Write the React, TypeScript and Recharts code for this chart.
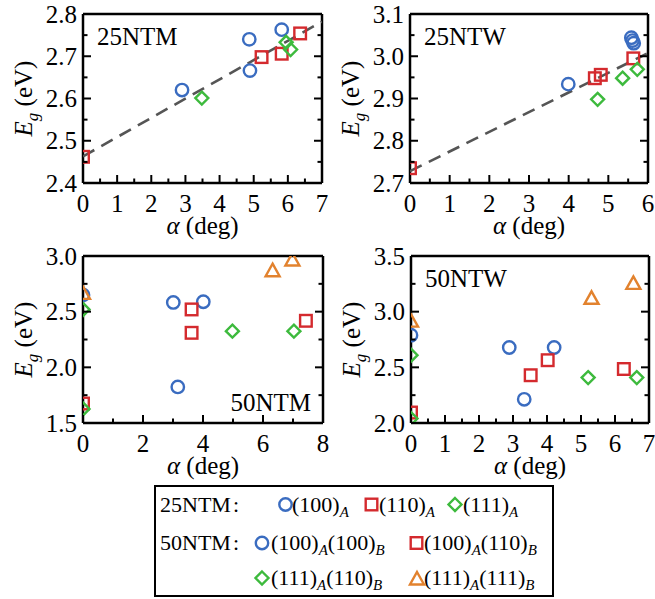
import React from "react";
import { ScatterChart, Scatter, XAxis, YAxis, Label } from "recharts";

const BLUE = "#3a6cc0";
const RED = "#d42a2e";
const GREEN = "#3dba3d";
const ORANGE = "#e2822e";
const FONT = "'Liberation Serif', 'Times New Roman', serif";

// 25NTM
const m25CircA = [2.9, 4.87, 4.89, 5.82];
const m25CircE = [2.62, 2.74, 2.666, 2.763];
const m25SqA = [0, 5.23, 5.82, 6.36];
const m25SqE = [2.462, 2.698, 2.706, 2.754];
const m25DiaA = [3.48, 5.95, 6.08];
const m25DiaE = [2.601, 2.733, 2.716];
const m25FitA = [0, 7];
const m25FitE = [2.463, 2.782];

// 25NTW
const w25CircA = [3.99, 5.58, 5.61, 5.64];
const w25CircE = [2.934, 3.044, 3.037, 3.031];
const w25SqA = [0, 4.66, 4.81, 5.63];
const w25SqE = [2.735, 2.948, 2.956, 2.995];
const w25DiaA = [4.73, 5.36, 5.73];
const w25DiaE = [2.898, 2.948, 2.969];
const w25FitA = [0, 5.97];
const w25FitE = [2.728, 3.006];

// 50NTM
const m50CircA = [0, 3.01, 3.16, 4.01];
const m50CircE = [2.65, 2.583, 1.824, 2.589];
const m50SqA = [0, 3.62, 3.62, 7.43];
const m50SqE = [1.675, 2.52, 2.31, 2.418];
const m50DiaA = [0, 0, 4.98, 7.03];
const m50DiaE = [2.52, 1.626, 2.325, 2.325];
const m50TriA = [0, 6.32, 6.98];
const m50TriE = [2.664, 2.868, 2.964];

// 50NTW
const w50CircA = [0, 2.89, 3.33, 4.21];
const w50CircE = [2.789, 2.678, 2.213, 2.678];
const w50SqA = [0, 3.52, 4.02, 6.26];
const w50SqE = [2.094, 2.429, 2.564, 2.485];
const w50DiaA = [0, 0, 5.21, 6.64];
const w50DiaE = [2.609, 2.04, 2.408, 2.408];
const w50TriA = [0, 5.31, 6.54];
const w50TriE = [2.915, 3.12, 3.254];

// major tick values
const xTicks7 = [0, 1, 2, 3, 4, 5, 6, 7];
const xTicks6 = [0, 1, 2, 3, 4, 5, 6];
const xTicks8 = [0, 2, 4, 6, 8];
const yTicksM25 = [2.4, 2.5, 2.6, 2.7, 2.8];
const yTicksW25 = [2.7, 2.8, 2.9, 3.0, 3.1];
const yTicksM50 = [1.5, 2.0, 2.5, 3.0];
const yTicksW50 = [2.0, 2.5, 3.0, 3.5];

const zip = (a: number[], e: number[]) => a.map((v, i) => ({ a: v, e: e[i] }));

// majors plus midpoints between them
const withMinor = (ticks: number[]) => {
  const out: number[] = [];
  ticks.forEach((t, i) => {
    out.push(t);
    if (i < ticks.length - 1) out.push((t + ticks[i + 1]) / 2);
  });
  return out;
};

const isMajor = (v: number, majors: number[]) => majors.some((m) => Math.abs(m - v) < 1e-6);

const MAJOR = 8;
const MINOR = 4.5;
const AX = { stroke: "#000", strokeWidth: 2.5 };

const bottomTick = (majors: number[]) => (p: any) => {
  const v = p.payload.value;
  const maj = isMajor(v, majors);
  return (
    <g>
      <line x1={p.x} y1={p.y} x2={p.x} y2={p.y - (maj ? MAJOR : MINOR)} stroke="#000" strokeWidth={2} />
      {maj && (
        <text x={p.x} y={p.y + 29} textAnchor="middle" fontFamily={FONT} fontSize={25} fill="#000">
          {v.toFixed(0)}
        </text>
      )}
    </g>
  );
};

const topTick = (majors: number[]) => (p: any) => {
  const maj = isMajor(p.payload.value, majors);
  return <line x1={p.x} y1={p.y} x2={p.x} y2={p.y + (maj ? MAJOR : MINOR)} stroke="#000" strokeWidth={2} />;
};

const leftTick = (majors: number[]) => (p: any) => {
  const v = p.payload.value;
  const maj = isMajor(v, majors);
  return (
    <g>
      <line x1={p.x} y1={p.y} x2={p.x + (maj ? MAJOR : MINOR)} y2={p.y} stroke="#000" strokeWidth={2} />
      {maj && (
        <text x={p.x - 6} y={p.y + 8.5} textAnchor="end" fontFamily={FONT} fontSize={25} fill="#000">
          {v.toFixed(1)}
        </text>
      )}
    </g>
  );
};

const rightTick = (majors: number[]) => (p: any) => {
  const maj = isMajor(p.payload.value, majors);
  return <line x1={p.x} y1={p.y} x2={p.x - (maj ? MAJOR : MINOR)} y2={p.y} stroke="#000" strokeWidth={2} />;
};

const circleShape = (p: any) => (
  <circle cx={p.cx} cy={p.cy} r={6.2} fill="none" stroke={BLUE} strokeWidth={2.4} />
);
const squareShape = (p: any) => (
  <rect x={p.cx - 5.8} y={p.cy - 5.8} width={11.6} height={11.6} fill="none" stroke={RED} strokeWidth={2.4} />
);
const diamondShape = (p: any) => (
  <path
    d={`M${p.cx},${p.cy - 6.5}L${p.cx + 6.5},${p.cy}L${p.cx},${p.cy + 6.5}L${p.cx - 6.5},${p.cy}Z`}
    fill="none"
    stroke={GREEN}
    strokeWidth={2.4}
  />
);
const triangleShape = (p: any) => (
  <path
    d={`M${p.cx},${p.cy - 7}L${p.cx + 7},${p.cy + 5.5}L${p.cx - 7},${p.cy + 5.5}Z`}
    fill="none"
    stroke={ORANGE}
    strokeWidth={2.4}
  />
);
const noShape = () => <g />;

type Series = { data: { a: number; e: number }[]; shape: any; name: string };

type PanelProps = {
  left: number;
  top: number;
  width: number;
  height: number;
  // plot-area insets from the chart edges
  inset: { top: number; right: number; bottom: number; left: number };
  xMajors: number[];
  yMajors: number[];
  series: Series[];
  fit?: { a: number; e: number }[];
  tag: string;
  tagPos: "topLeft" | "bottomRight";
};

function Panel(props: PanelProps) {
  const { xMajors, yMajors, inset } = props;
  const xAll = withMinor(xMajors);
  const yAll = withMinor(yMajors);
  const xDom = [xMajors[0], xMajors[xMajors.length - 1]];
  const yDom = [yMajors[0], yMajors[yMajors.length - 1]];
  // axes take 1px each, so the margins are the insets minus that
  const margin = {
    top: inset.top - 1,
    right: inset.right - 1,
    bottom: inset.bottom - 1,
    left: inset.left - 1,
  };

  const alphaLabel = (p: any) => {
    const vb = p.viewBox;
    return (
      <text x={vb.x + vb.width / 2} y={vb.y + 51} textAnchor="middle" fontFamily={FONT} fontSize={25} fill="#000">
        <tspan fontStyle="italic">α</tspan> (deg)
      </text>
    );
  };

  const egLabel = (p: any) => {
    const vb = p.viewBox;
    const cx = vb.x + vb.width - 51;
    const cy = vb.y + vb.height / 2;
    return (
      <text
        x={cx}
        y={cy}
        textAnchor="middle"
        transform={`rotate(-90, ${cx}, ${cy})`}
        fontFamily={FONT}
        fontSize={25}
        fill="#000"
      >
        <tspan fontStyle="italic">E</tspan>
        <tspan fontStyle="italic" fontSize={17} dy={6}>g</tspan>
        <tspan dy={-6}> (eV)</tspan>
      </text>
    );
  };

  const tagTop = (p: any) => {
    const vb = p.viewBox;
    if (props.tagPos !== "topLeft") return null;
    return (
      <text x={vb.x + 14} y={vb.y + vb.height + 31} fontFamily={FONT} fontSize={25} fill="#000">
        {props.tag}
      </text>
    );
  };
  const tagBottom = (p: any) => {
    const vb = p.viewBox;
    if (props.tagPos !== "bottomRight") return null;
    return (
      <text x={vb.x + vb.width - 12} y={vb.y - 12} textAnchor="end" fontFamily={FONT} fontSize={25} fill="#000">
        {props.tag}
      </text>
    );
  };

  return (
    <div style={{ position: "absolute", left: props.left, top: props.top }}>
      <ScatterChart width={props.width} height={props.height} margin={margin}>
        <XAxis
          xAxisId="b"
          type="number"
          dataKey="a"
          orientation="bottom"
          domain={xDom}
          ticks={xAll}
          interval={0}
          allowDataOverflow
          height={1}
          tickSize={0}
          tickMargin={0}
          tickLine={false}
          axisLine={AX}
          tick={bottomTick(xMajors)}
        >
          <Label content={alphaLabel} />
          <Label content={tagBottom} />
        </XAxis>
        <XAxis
          xAxisId="t"
          type="number"
          orientation="top"
          domain={xDom}
          ticks={xAll}
          interval={0}
          allowDataOverflow
          height={1}
          tickSize={0}
          tickMargin={0}
          tickLine={false}
          axisLine={AX}
          tick={topTick(xMajors)}
        >
          <Label content={tagTop} />
        </XAxis>
        <YAxis
          yAxisId="l"
          type="number"
          dataKey="e"
          orientation="left"
          domain={yDom}
          ticks={yAll}
          interval={0}
          allowDataOverflow
          width={1}
          tickSize={0}
          tickMargin={0}
          tickLine={false}
          axisLine={AX}
          tick={leftTick(yMajors)}
        >
          <Label content={egLabel} />
        </YAxis>
        <YAxis
          yAxisId="r"
          type="number"
          orientation="right"
          domain={yDom}
          ticks={yAll}
          interval={0}
          allowDataOverflow
          width={1}
          tickSize={0}
          tickMargin={0}
          tickLine={false}
          axisLine={AX}
          tick={rightTick(yMajors)}
        />
        {props.fit && (
          <Scatter
            xAxisId="b"
            yAxisId="l"
            data={props.fit}
            line={{ stroke: "#555", strokeWidth: 2.6, strokeDasharray: "13 8" }}
            lineType="joint"
            shape={noShape}
            isAnimationActive={false}
          />
        )}
        {props.series.map((s) => (
          <Scatter
            key={s.name}
            name={s.name}
            xAxisId="b"
            yAxisId="l"
            data={s.data}
            shape={s.shape}
            isAnimationActive={false}
          />
        ))}
      </ScatterChart>
    </div>
  );
}

function LegendBox() {
  const sub = (t: string) => (
    <tspan fontStyle="italic" fontSize={15} dy={5}>
      {t}
    </tspan>
  );
  const ts = { fontFamily: FONT, fontSize: 22, fill: "#000" };
  return (
    <svg style={{ position: "absolute", left: 0, top: 0 }} width={655} height={599}>
      <rect x={155} y={486} width={398} height={110} fill="#fff" stroke="#000" strokeWidth={2} />
      <text x={160} y={512} {...ts}>25NTM<tspan dx={2}>:</tspan></text>
      <text x={160} y={550} {...ts}>50NTM<tspan dx={2}>:</tspan></text>
      <g>{circleShape({ cx: 285.5, cy: 504.5 })}</g>
      <text x={292} y={512} {...ts}>(100){sub("A")}</text>
      <g>{squareShape({ cx: 371.5, cy: 504.5 })}</g>
      <text x={379} y={512} {...ts}>(110){sub("A")}</text>
      <g>{diamondShape({ cx: 455, cy: 504.5 })}</g>
      <text x={463} y={512} {...ts}>(111){sub("A")}</text>

      <g>{circleShape({ cx: 262, cy: 543 })}</g>
      <text x={271} y={550} {...ts}>(100){sub("A")}<tspan dy={-5}>(100)</tspan>{sub("B")}</text>
      <g>{squareShape({ cx: 416.5, cy: 543 })}</g>
      <text x={424} y={550} {...ts}>(100){sub("A")}<tspan dy={-5}>(110)</tspan>{sub("B")}</text>

      <g>{diamondShape({ cx: 262, cy: 578 })}</g>
      <text x={271} y={585} {...ts}>(111){sub("A")}<tspan dy={-5}>(110)</tspan>{sub("B")}</text>
      <g>{triangleShape({ cx: 417, cy: 579 })}</g>
      <text x={424} y={585} {...ts}>(111){sub("A")}<tspan dy={-5}>(111)</tspan>{sub("B")}</text>
    </svg>
  );
}

export default function App() {
  return (
    <div style={{ position: "absolute", left: 0, top: 0, width: 655, height: 599, background: "#fff" }}>
      <LegendBox />
      <Panel
        left={0}
        top={0}
        width={330}
        height={245}
        inset={{ top: 14, right: 8, bottom: 62, left: 83 }}
        xMajors={xTicks7}
        yMajors={yTicksM25}
        fit={zip(m25FitA, m25FitE)}
        tag="25NTM"
        tagPos="topLeft"
        series={[
          { name: "(100)A", data: zip(m25CircA, m25CircE), shape: circleShape },
          { name: "(110)A", data: zip(m25SqA, m25SqE), shape: squareShape },
          { name: "(111)A", data: zip(m25DiaA, m25DiaE), shape: diamondShape },
        ]}
      />
      <Panel
        left={328}
        top={0}
        width={327}
        height={245}
        inset={{ top: 14, right: 7, bottom: 62, left: 82 }}
        xMajors={xTicks6}
        yMajors={yTicksW25}
        fit={zip(w25FitA, w25FitE)}
        tag="25NTW"
        tagPos="topLeft"
        series={[
          { name: "(100)A", data: zip(w25CircA, w25CircE), shape: circleShape },
          { name: "(110)A", data: zip(w25SqA, w25SqE), shape: squareShape },
          { name: "(111)A", data: zip(w25DiaA, w25DiaE), shape: diamondShape },
        ]}
      />
      <Panel
        left={0}
        top={232}
        width={330}
        height={248}
        inset={{ top: 24, right: 7, bottom: 57, left: 83 }}
        xMajors={xTicks8}
        yMajors={yTicksM50}
        tag="50NTM"
        tagPos="bottomRight"
        series={[
          { name: "(100)A(100)B", data: zip(m50CircA, m50CircE), shape: circleShape },
          { name: "(100)A(110)B", data: zip(m50SqA, m50SqE), shape: squareShape },
          { name: "(111)A(110)B", data: zip(m50DiaA, m50DiaE), shape: diamondShape },
          { name: "(111)A(111)B", data: zip(m50TriA, m50TriE), shape: triangleShape },
        ]}
      />
      <Panel
        left={328}
        top={232}
        width={327}
        height={248}
        inset={{ top: 24, right: 6, bottom: 57, left: 83 }}
        xMajors={xTicks7}
        yMajors={yTicksW50}
        tag="50NTW"
        tagPos="topLeft"
        series={[
          { name: "(100)A(100)B", data: zip(w50CircA, w50CircE), shape: circleShape },
          { name: "(100)A(110)B", data: zip(w50SqA, w50SqE), shape: squareShape },
          { name: "(111)A(110)B", data: zip(w50DiaA, w50DiaE), shape: diamondShape },
          { name: "(111)A(111)B", data: zip(w50TriA, w50TriE), shape: triangleShape },
        ]}
      />
    </div>
  );
}
